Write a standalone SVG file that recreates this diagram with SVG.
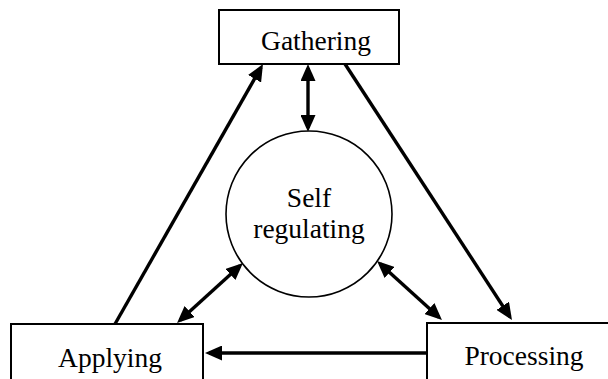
<svg xmlns="http://www.w3.org/2000/svg" width="608" height="379" viewBox="0 0 608 379">
<style>
.box{fill:#fff;stroke:#000;stroke-width:2}
.circ{fill:#fff;stroke:#000;stroke-width:1.6}
.lbl{font-family:"Liberation Serif","Times New Roman",serif;font-size:27.5px;fill:#000;text-anchor:middle}
.arr{stroke:#000;stroke-width:3.4;fill:none;marker-end:url(#ah)}
.dbl{stroke:#000;stroke-width:3.4;fill:none;marker-start:url(#ah);marker-end:url(#ah)}
</style>
<defs>
<marker id="ah" markerUnits="userSpaceOnUse" markerWidth="17" markerHeight="15" refX="13" refY="7.5" orient="auto-start-reverse" viewBox="0 0 17 15">
<path d="M0,0 L17,7.5 L0,15 z" fill="#000"/>
</marker>
</defs>
<rect width="608" height="379" fill="#fff"/>
<g id="connectors">
<line class="arr" x1="115" y1="324" x2="261" y2="67.5"/>
<line class="arr" x1="345" y1="64" x2="509.8" y2="316.7"/>
<line class="arr" x1="427" y1="353" x2="209" y2="353"/>
<line class="dbl" x1="308" y1="68" x2="308" y2="128"/>
<line class="dbl" x1="240" y1="265.7" x2="180" y2="320.3"/>
<line class="dbl" x1="380" y1="263.7" x2="439" y2="317.3"/>
</g>
<g id="gathering">
<rect class="box" x="219" y="10" width="180" height="54"/>
<text class="lbl" x="316" y="50">Gathering</text>
</g>
<g id="self-regulating">
<circle class="circ" cx="309" cy="214" r="83"/>
<text class="lbl" x="309" y="207">Self</text>
<text class="lbl" x="309" y="238">regulating</text>
</g>
<g id="applying">
<rect class="box" x="11" y="324" width="192" height="70"/>
<text class="lbl" x="110" y="367">Applying</text>
</g>
<g id="processing">
<rect class="box" x="427" y="323" width="200" height="70"/>
<text class="lbl" x="524" y="365">Processing</text>
</g>
</svg>
